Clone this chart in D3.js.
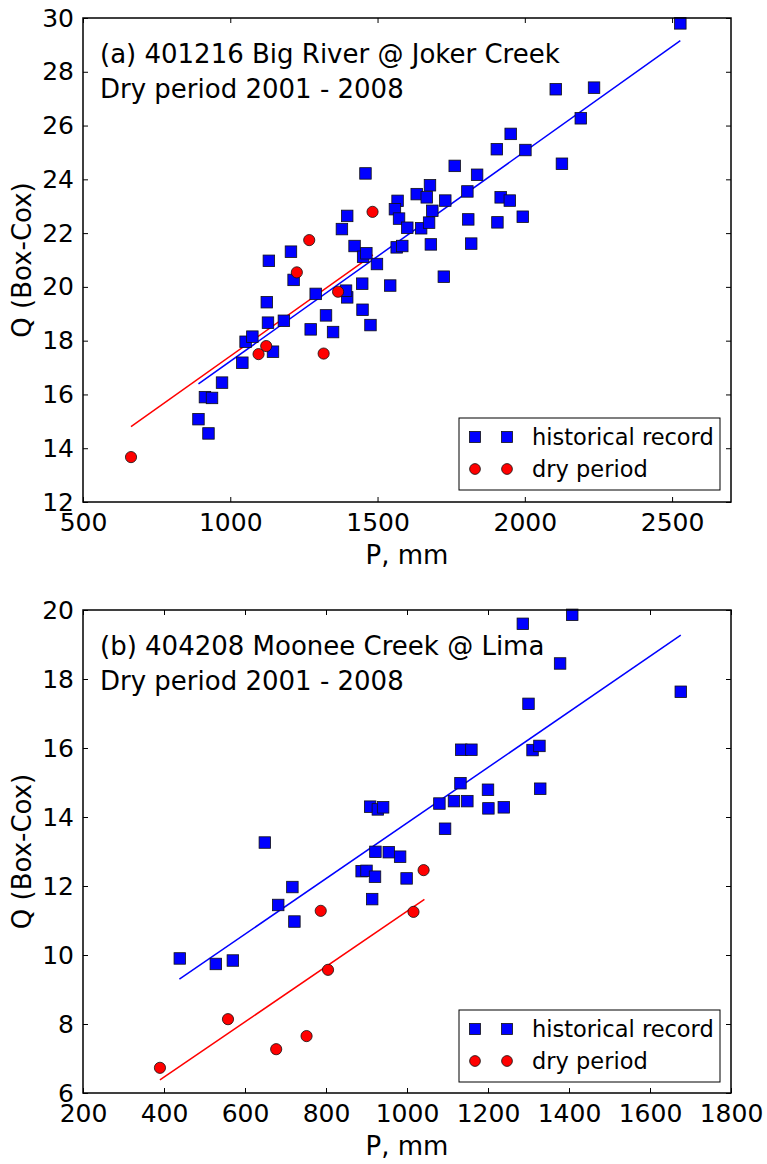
<!DOCTYPE html>
<html>
<head>
<meta charset="utf-8">
<script src="https://cdn.jsdelivr.net/npm/d3@7"></script>
<style>
  body { margin: 0; background: #fff; }
  text { font-family: "DejaVu Sans", sans-serif; fill: #000; }
</style>
</head>
<body>
<svg id="chart" width="767" height="1164"></svg>
<script>
// ---- panel (a) 401216 Big River @ Joker Creek ----
const histA = [
  [892, 15.08], [926, 14.55], [914, 15.90], [938, 15.87], [972, 16.44],
  [1041, 17.18], [1052, 17.96], [1075, 18.15], [1145, 17.59], [1128, 18.67],
  [1124, 19.43], [1131, 20.97], [1182, 18.74], [1215, 20.26], [1206, 21.31],
  [1273, 18.42], [1290, 19.74], [1325, 18.94], [1349, 18.32], [1397, 19.61],
  [1393, 19.86], [1448, 20.12], [1449, 19.15], [1476, 18.58], [1498, 20.85],
  [1543, 20.05], [1422, 21.52], [1451, 21.12], [1462, 21.25], [1565, 21.47],
  [1584, 21.52], [1459, 24.22], [1397, 22.64], [1379, 22.15], [1633, 23.45],
  [1568, 23.20], [1559, 22.89], [1573, 22.54], [1601, 22.20], [1648, 22.18],
  [2528, 29.80], [2105, 27.35], [2235, 27.41], [2190, 26.27], [2126, 24.58],
  [1952, 25.69], [1905, 25.12], [2002, 25.09], [1762, 24.50], [1838, 24.17],
  [1805, 23.55], [1678, 23.78], [1667, 23.33], [1730, 23.21], [1918, 23.33],
  [1949, 23.21], [1686, 22.83], [1808, 22.51], [1907, 22.40], [1993, 22.61],
  [1675, 22.39], [1681, 21.58], [1818, 21.61], [1725, 20.38]
];
const dryA = [
  [663, 13.67], [1096, 17.50], [1122, 17.80], [1317, 17.52],
  [1226, 20.54], [1366, 19.82], [1268, 21.74], [1483, 22.79]
];
const histFitA = [[892, 16.39], [2528, 29.16]];
const dryFitA = [[663, 14.80], [1484, 21.19]];
const xTicksA = [500, 1000, 1500, 2000, 2500];
const yTicksA = [12, 14, 16, 18, 20, 22, 24, 26, 28, 30];
const titleA = ["(a) 401216 Big River @ Joker Creek", "Dry period 2001 - 2008"];

// ---- panel (b) 404208 Moonee Creek @ Lima ----
const histB = [
  [439, 9.90], [528, 9.74], [570, 9.84], [649, 13.26], [682, 11.45],
  [717, 11.97], [722, 10.97], [888, 12.43], [900, 12.44], [909, 14.30],
  [928, 14.22], [941, 14.28], [914, 11.62], [921, 12.27], [922, 12.99],
  [955, 12.98], [983, 12.85], [999, 12.22], [1080, 14.39], [1094, 13.66],
  [1116, 14.46], [1132, 14.98], [1134, 15.95], [1149, 14.46], [1159, 15.95],
  [1200, 14.79], [1201, 14.25], [1239, 14.28], [1286, 19.60], [1300, 17.28],
  [1310, 15.94], [1327, 16.06], [1329, 14.82], [1378, 18.45], [1408, 19.86],
  [1676, 17.63]
];
const dryB = [
  [390, 6.73], [558, 8.14], [677, 7.27], [752, 7.65],
  [787, 11.28], [805, 9.57], [1016, 11.25], [1041, 12.46]
];
const histFitB = [[438, 9.30], [1676, 19.27]];
const dryFitB = [[390, 6.38], [1043, 11.61]];
const xTicksB = [200, 400, 600, 800, 1000, 1200, 1400, 1600, 1800];
const yTicksB = [6, 8, 10, 12, 14, 16, 18, 20];
const titleB = ["(b) 404208 Moonee Creek @ Lima", "Dry period 2001 - 2008"];

const legendLabels = ["historical record", "dry period"];
const blue = "#0000ff", red = "#ff0000";

const svg = d3.select("#chart");

function square(g, x, y, s) {
  g.append("rect")
    .attr("x", x - s / 2).attr("y", y - s / 2)
    .attr("width", s).attr("height", s)
    .attr("fill", blue).attr("stroke", "#111").attr("stroke-width", 0.8);
}

function dot(g, x, y, r) {
  g.append("circle")
    .attr("cx", x).attr("cy", y).attr("r", r)
    .attr("fill", red).attr("stroke", "#111").attr("stroke-width", 0.8);
}

/**
 * Draws one scatter panel with its fit lines and legend
 */
function drawPanel(p) {
  const x = d3.scaleLinear().domain(p.xDomain).range([83, 731]);
  const y = d3.scaleLinear().domain(p.yDomain).range([p.bottom, p.top]);
  const g = svg.append("g");
  const fmt = d3.format("d");

  // ticks on all four sides, pointing inward
  const tl = 5;
  g.append("g").attr("transform", `translate(0,${p.bottom})`)
    .call(d3.axisBottom(x).tickValues(p.xTicks).tickFormat(fmt).tickSizeInner(-tl).tickSizeOuter(0).tickPadding(11))
    .call(a => a.select(".domain").remove());
  g.append("g").attr("transform", `translate(0,${p.top})`)
    .call(d3.axisTop(x).tickValues(p.xTicks).tickSizeInner(-tl).tickSizeOuter(0).tickFormat(""))
    .call(a => a.select(".domain").remove());
  g.append("g").attr("transform", "translate(83,0)")
    .call(d3.axisLeft(y).tickValues(p.yTicks).tickFormat(fmt).tickSizeInner(-tl).tickSizeOuter(0).tickPadding(9))
    .call(a => a.select(".domain").remove());
  g.append("g").attr("transform", "translate(731,0)")
    .call(d3.axisRight(y).tickValues(p.yTicks).tickSizeInner(-tl).tickSizeOuter(0).tickFormat(""))
    .call(a => a.select(".domain").remove());
  g.selectAll(".tick text")
    .style("font-family", "DejaVu Sans").style("font-size", "25px").attr("fill", "#000");
  g.selectAll(".tick line").attr("stroke", "#000");

  const line = d3.line().x(d => x(d[0])).y(d => y(d[1]));

  // fit lines
  g.append("path").datum(p.histFit).attr("d", line)
    .attr("fill", "none").attr("stroke", blue).attr("stroke-width", 1.5);
  g.append("path").datum(p.dryFit).attr("d", line)
    .attr("fill", "none").attr("stroke", red).attr("stroke-width", 1.5);

  // markers
  const pts = g.append("g");
  p.hist.forEach(d => square(pts, x(d[0]), y(d[1]), 11.5));
  p.dry.forEach(d => dot(pts, x(d[0]), y(d[1]), 5.6));

  // frame
  g.append("rect")
    .attr("x", 83).attr("y", p.top)
    .attr("width", 648).attr("height", p.bottom - p.top)
    .attr("fill", "none").attr("stroke", "#000").attr("stroke-width", 1.5);

  // title text
  g.selectAll("text.title").data(p.title).enter()
    .append("text").attr("class", "title")
    .attr("x", 100).attr("y", (d, i) => p.top + 45 + i * 35)
    .style("font-size", "26px")
    .text(d => d);

  // axis labels
  g.append("text")
    .attr("transform", `translate(31,${(p.top + p.bottom) / 2}) rotate(-90)`)
    .attr("text-anchor", "middle")
    .style("font-size", "26px")
    .text("Q (Box-Cox)");
  g.append("text")
    .attr("x", 407).attr("y", p.bottom + 62)
    .attr("text-anchor", "middle")
    .style("font-size", "26px")
    .text("P, mm");

  // legend
  const lg = g.append("g").attr("transform", `translate(459,${p.legendTop})`);
  lg.append("rect").attr("width", 261).attr("height", 72)
    .attr("fill", "#fff").attr("stroke", "#000").attr("stroke-width", 1);
  [16, 48].forEach(mx => {
    square(lg, mx, 19, 11);
    dot(lg, mx, 51, 5.4);
  });
  lg.selectAll("text").data(legendLabels).enter()
    .append("text")
    .attr("x", 73).attr("y", (d, i) => 27 + i * 32)
    .style("font-size", "22.5px")
    .text(d => d);
}

drawPanel({
  hist: histA, dry: dryA, histFit: histFitA, dryFit: dryFitA,
  xDomain: [500, 2700], yDomain: [12, 30], xTicks: xTicksA, yTicks: yTicksA,
  title: titleA, top: 18, bottom: 502, legendTop: 418
});

drawPanel({
  hist: histB, dry: dryB, histFit: histFitB, dryFit: dryFitB,
  xDomain: [200, 1800], yDomain: [6, 20], xTicks: xTicksB, yTicks: yTicksB,
  title: titleB, top: 610, bottom: 1093, legendTop: 1010
});
</script>
</body>
</html>
